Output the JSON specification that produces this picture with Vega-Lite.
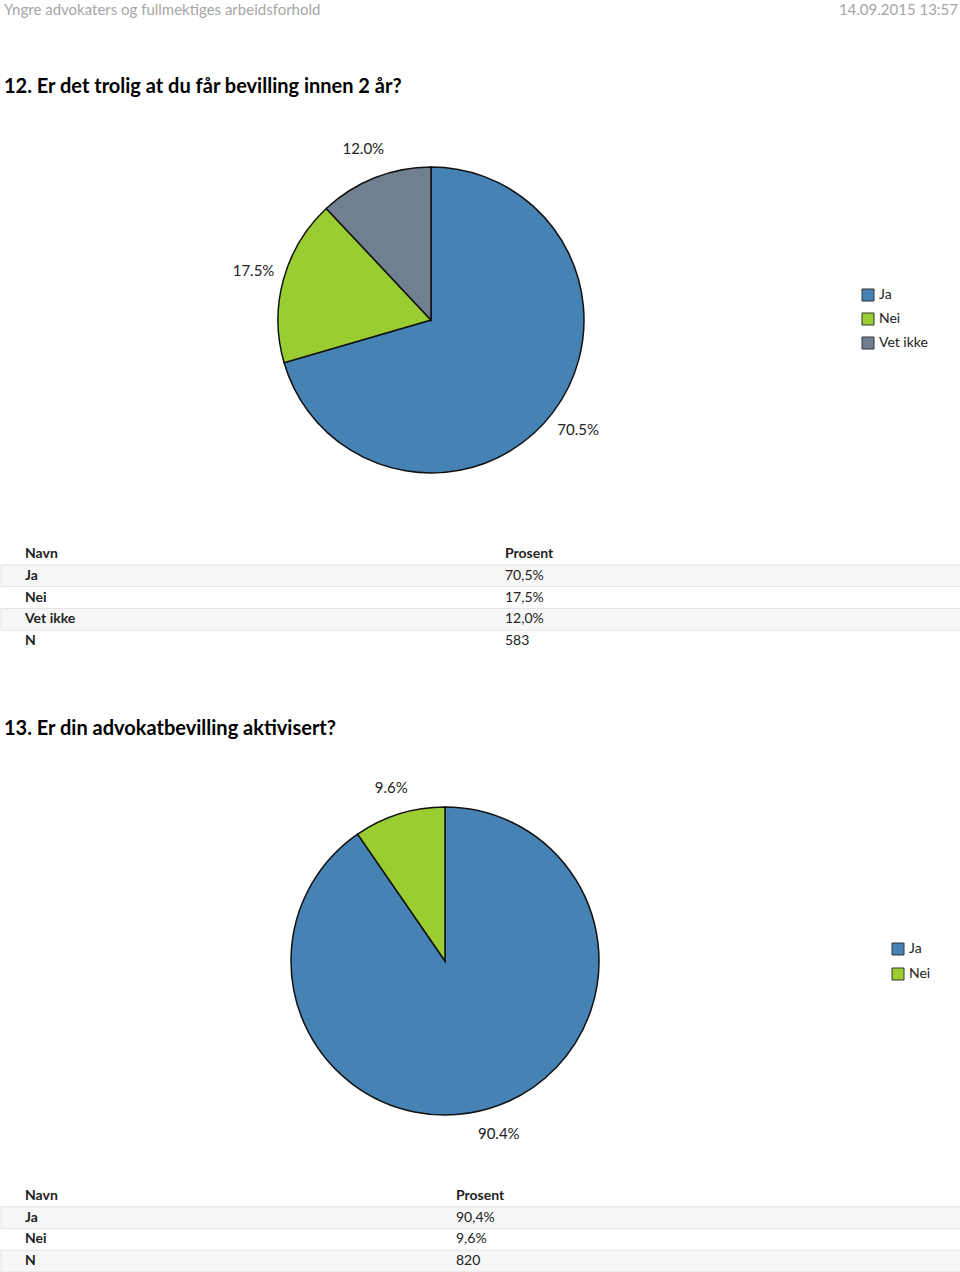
{
  "$schema": "https://vega.github.io/schema/vega-lite/v6.json",
  "padding": 0,
  "spacing": 0,
  "bounds": "flush",
  "background": "white",
  "config": {"view": {"stroke": null}, "concat": {"spacing": 0}},
  "resolve": {"scale": {"color": "independent", "x": "independent", "y": "independent"}, "legend": {"color": "independent"}},
  "datasets": {
    "header": [{"t": "Yngre advokaters og fullmektiges arbeidsforhold", "s": "L"}, {"t": "14.09.2015 13:57", "s": "R"}],
    "title1": [{"t": "12. Er det trolig at du får bevilling innen 2 år?", "s": "L"}],
    "title2": [{"t": "13. Er din advokatbevilling aktivisert?", "s": "L"}],
    "pie1": [
      {"navn": "Ja", "pct": 70.5, "label": "70.5%"},
      {"navn": "Nei", "pct": 17.5, "label": "17.5%"},
      {"navn": "Vet ikke", "pct": 12.0, "label": "12.0%"}
    ],
    "pie2": [
      {"navn": "Ja", "pct": 90.4, "label": "90.4%"},
      {"navn": "Nei", "pct": 9.6, "label": "9.6%"}
    ],
    "tab1": [
      {"r": 0, "navn": "Navn", "prosent": "Prosent"},
      {"r": 1, "navn": "Ja", "prosent": "70,5%"},
      {"r": 2, "navn": "Nei", "prosent": "17,5%"},
      {"r": 3, "navn": "Vet ikke", "prosent": "12,0%"},
      {"r": 4, "navn": "N", "prosent": "583"}
    ],
    "tab2": [
      {"r": 0, "navn": "Navn", "prosent": "Prosent"},
      {"r": 1, "navn": "Ja", "prosent": "90,4%"},
      {"r": 2, "navn": "Nei", "prosent": "9,6%"},
      {"r": 3, "navn": "N", "prosent": "820"}
    ]
  },
  "vconcat": [
    {
      "width": 960, "height": 20,
      "data": {"name": "header"},
      "layer": [
        {"transform": [{"filter": "datum.s == 'L'"}],
         "mark": {"type": "text", "align": "left", "baseline": "middle", "font": "Lato", "fontSize": 15, "color": "#a6a6a6"},
         "encoding": {"x": {"field": "s", "type": "nominal", "scale": {"type": "point", "domain": ["L", "R"], "range": [3, 957], "padding": 0}, "axis": null}, "text": {"field": "t"}}},
        {"transform": [{"filter": "datum.s == 'R'"}],
         "mark": {"type": "text", "align": "right", "baseline": "middle", "font": "Lato", "fontSize": 15, "color": "#a6a6a6"},
         "encoding": {"x": {"field": "s", "type": "nominal", "axis": null}, "text": {"field": "t"}}}
      ]
    },
    {
      "width": 960, "height": 134,
      "data": {"name": "title1"},
      "mark": {"type": "text", "align": "left", "baseline": "middle", "font": "Lato", "fontSize": 20, "fontWeight": "bold", "color": "#000"},
      "encoding": {"x": {"field": "s", "type": "nominal", "scale": {"type": "point", "domain": ["L", "R"], "range": [3, 957], "padding": 0}, "axis": null}, "text": {"field": "t"}}
    },
    {
      "width": 860, "height": 332,
      "data": {"name": "pie1"},
      "encoding": {"theta": {"field": "pct", "type": "quantitative", "stack": true}, "order": {"field": "pct", "type": "quantitative", "sort": "descending"}},
      "layer": [
        {"mark": {"type": "arc", "outerRadius": 153, "stroke": "#111", "strokeWidth": 1.5},
         "encoding": {"color": {"field": "navn", "type": "nominal",
           "scale": {"domain": ["Ja", "Nei", "Vet ikke"], "range": ["#4682B4", "#9ACD32", "#708090"]},
           "legend": {"orient": "none", "legendX": 860, "legendY": 134, "title": null, "symbolType": "square", "symbolSize": 144, "symbolStrokeColor": "#333", "symbolStrokeWidth": 1, "labelFont": "Lato", "labelFontSize": 14, "labelColor": "#222", "rowPadding": 8, "labelOffset": 4}}}},
        {"mark": {"type": "text", "radius": 184, "font": "Lato", "fontSize": 15, "color": "#222"},
         "encoding": {"text": {"field": "label"}}}
      ]
    },
    {
      "width": 960, "height": 194,
      "data": {"name": "tab1"},
      "layer": [
        {"transform": [{"filter": "datum.r % 2 == 1"}],
         "mark": {"type": "rect", "fill": "#f7f7f7", "stroke": "#e3e3e3", "strokeWidth": 1},
         "encoding": {"y": {"field": "r", "type": "ordinal", "scale": {"range": [57, 166], "paddingInner": 0, "paddingOuter": 0}, "axis": null}}},
        {"transform": [{"fold": ["navn", "prosent"], "as": ["col", "val"]}, {"filter": "datum.col == 'navn' || datum.r == 0"}],
         "mark": {"type": "text", "align": "left", "baseline": "middle", "font": "Lato", "fontSize": 14, "fontWeight": "bold", "color": "#222"},
         "encoding": {"x": {"field": "col", "type": "nominal", "scale": {"type": "point", "domain": ["navn", "prosent"], "range": [24, 504], "padding": 0}, "axis": null},
                      "y": {"field": "r", "type": "ordinal", "axis": null}, "text": {"field": "val"}}},
        {"transform": [{"fold": ["navn", "prosent"], "as": ["col", "val"]}, {"filter": "datum.col == 'prosent' && datum.r > 0"}],
         "mark": {"type": "text", "align": "left", "baseline": "middle", "font": "Lato", "fontSize": 14, "color": "#222"},
         "encoding": {"x": {"field": "col", "type": "nominal", "axis": null},
                      "y": {"field": "r", "type": "ordinal", "axis": null}, "text": {"field": "val"}}}
      ]
    },
    {
      "width": 960, "height": 98,
      "data": {"name": "title2"},
      "mark": {"type": "text", "align": "left", "baseline": "middle", "font": "Lato", "fontSize": 20, "fontWeight": "bold", "color": "#000"},
      "encoding": {"x": {"field": "s", "type": "nominal", "scale": {"type": "point", "domain": ["L", "R"], "range": [3, 957], "padding": 0}, "axis": null}, "text": {"field": "t"}}
    },
    {
      "width": 888, "height": 366,
      "data": {"name": "pie2"},
      "encoding": {"theta": {"field": "pct", "type": "quantitative", "stack": true}, "order": {"field": "pct", "type": "quantitative", "sort": "descending"}},
      "layer": [
        {"mark": {"type": "arc", "outerRadius": 154, "stroke": "#111", "strokeWidth": 1.5},
         "encoding": {"color": {"field": "navn", "type": "nominal",
           "scale": {"domain": ["Ja", "Nei"], "range": ["#4682B4", "#9ACD32"]},
           "legend": {"orient": "none", "legendX": 890, "legendY": 164, "title": null, "symbolType": "square", "symbolSize": 144, "symbolStrokeColor": "#333", "symbolStrokeWidth": 1, "labelFont": "Lato", "labelFontSize": 14, "labelColor": "#222", "rowPadding": 9, "labelOffset": 4}}}},
        {"mark": {"type": "text", "radius": 181, "font": "Lato", "fontSize": 15, "color": "#222"},
         "encoding": {"text": {"field": "label"}}}
      ]
    },
    {
      "width": 960, "height": 128,
      "data": {"name": "tab2"},
      "layer": [
        {"transform": [{"filter": "datum.r % 2 == 1"}],
         "mark": {"type": "rect", "fill": "#f7f7f7", "stroke": "#e3e3e3", "strokeWidth": 1},
         "encoding": {"y": {"field": "r", "type": "ordinal", "scale": {"range": [41, 128], "paddingInner": 0, "paddingOuter": 0}, "axis": null}}},
        {"transform": [{"fold": ["navn", "prosent"], "as": ["col", "val"]}, {"filter": "datum.col == 'navn' || datum.r == 0"}],
         "mark": {"type": "text", "align": "left", "baseline": "middle", "font": "Lato", "fontSize": 14, "fontWeight": "bold", "color": "#222"},
         "encoding": {"x": {"field": "col", "type": "nominal", "scale": {"type": "point", "domain": ["navn", "prosent"], "range": [24, 455], "padding": 0}, "axis": null},
                      "y": {"field": "r", "type": "ordinal", "axis": null}, "text": {"field": "val"}}},
        {"transform": [{"fold": ["navn", "prosent"], "as": ["col", "val"]}, {"filter": "datum.col == 'prosent' && datum.r > 0"}],
         "mark": {"type": "text", "align": "left", "baseline": "middle", "font": "Lato", "fontSize": 14, "color": "#222"},
         "encoding": {"x": {"field": "col", "type": "nominal", "axis": null},
                      "y": {"field": "r", "type": "ordinal", "axis": null}, "text": {"field": "val"}}}
      ]
    }
  ]
}
